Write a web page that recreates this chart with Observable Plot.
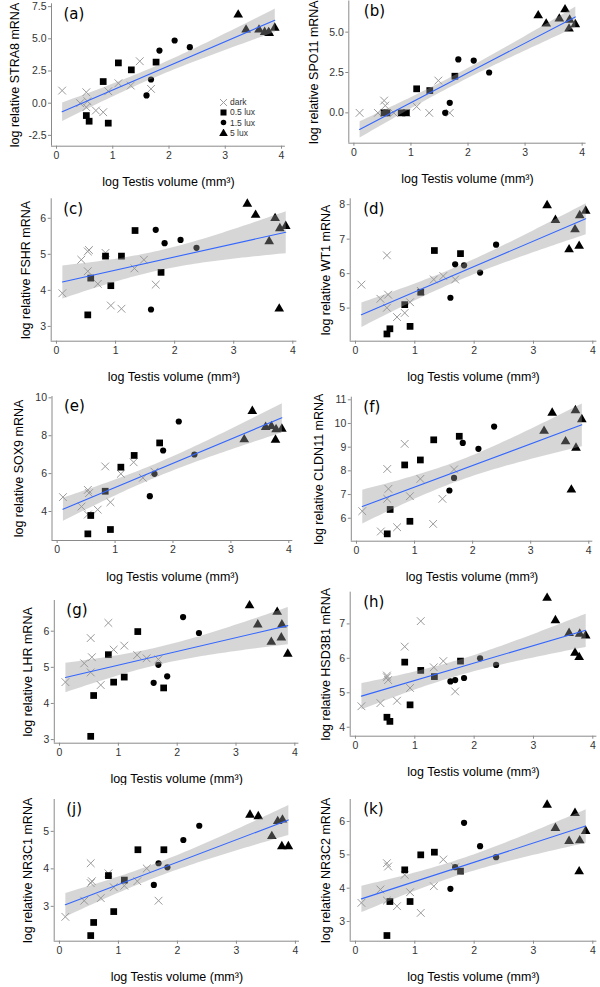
<!DOCTYPE html>
<html><head><meta charset="utf-8">
<script src="https://cdn.jsdelivr.net/npm/d3@7"></script>
<script src="https://cdn.jsdelivr.net/npm/@observablehq/plot@0.6"></script>
<style>
body{margin:0;background:#fff;}
#fig{position:relative;width:600px;height:987px;overflow:hidden;background:#fff;}
.panel{position:absolute;width:300px;}
.panel svg{overflow:visible;}
#legend{position:absolute;left:219px;top:97px;font-family:"Liberation Sans",Arial,sans-serif;font-size:8.5px;color:#333;}
#legend div{height:10.4px;line-height:10.4px;display:flex;align-items:center;}
#legend svg{margin-right:2px;}
</style></head><body><div id="fig"></div>
<script>
// ---- data ----
const lightLabels = ["dark", "0.5 lux", "1.5 lux", "5 lux"];
const lightGroup = [
  "dark","dark","dark","dark","dark","dark","dark","dark","dark","dark","dark","dark",
  "0.5 lux","0.5 lux","0.5 lux","0.5 lux","0.5 lux","0.5 lux","0.5 lux",
  "1.5 lux","1.5 lux","1.5 lux","1.5 lux","1.5 lux",
  "5 lux","5 lux","5 lux","5 lux","5 lux","5 lux","5 lux"];
const testisVolume = [
  0.10, 0.42, 0.53, 0.55, 0.53, 0.70, 0.83, 0.92, 1.10, 1.32, 1.48, 1.68,
  0.53, 0.58, 0.83, 0.92, 1.10, 1.33, 1.77,
  1.60, 1.68, 1.83, 2.10, 2.37,
  3.23, 3.37, 3.60, 3.70, 3.77, 3.78, 3.88];
const STRA8 = [0.98, 0.00, 0.85, 0.15, -0.31, -0.57, -0.70, 0.93, 1.55, 1.37, 3.26, 1.11,
  -0.96, -1.40, 1.68, -1.55, 3.13, 2.59, 3.19,
  0.60, 1.84, 4.09, 4.87, 4.35,
  6.87, 5.70, 5.70, 5.52, 5.50, 5.44, 5.85];
const SPO11 = [0.00, 0.00, 0.76, 0.45, 0.00, 0.00, 0.00, 0.00, 0.39, 0.00, 2.00, 0.00,
  0.00, 0.00, 0.00, 0.00, 1.49, 1.38, 2.27,
  0.00, 0.62, 3.31, 3.24, 2.50,
  6.03, 5.52, 5.83, 6.40, 5.21, 5.76, 5.48];
const FSHR = [3.92, 4.85, 5.08, 5.12, 4.53, 4.18, 5.04, 3.58, 3.49, 4.61, 4.85, 4.16,
  3.32, 4.34, 4.95, 4.13, 4.95, 5.66, 4.50,
  3.47, 5.68, 5.31, 5.40, 5.18,
  6.40, 6.09, 5.36, 6.00, 3.49, 5.72, 5.78];
const WT1 = [5.68, 5.27, 6.53, 5.39, 5.01, 4.74, 4.86, 5.17, 5.50, 5.83, 5.93, 5.83,
  4.25, 4.40, 5.10, 4.47, 5.46, 6.67, 6.58,
  5.30, 6.27, 6.24, 6.03, 6.84,
  7.98, 7.55, 6.70, 7.28, 6.80, 7.69, 7.82];
const SOX9 = [4.76, 4.26, 5.14, 4.97, 3.84, 4.10, 6.38, 4.49, 5.99, 6.60, 5.78, 6.10,
  2.82, 3.79, 5.07, 3.05, 6.34, 6.96, 7.62,
  4.81, 5.99, 7.22, 8.75, 7.01,
  7.80, 9.30, 8.45, 8.50, 7.78, 8.33, 8.36];
const CLDN11 = [6.30, 5.44, 8.08, 7.24, 6.82, 5.62, 9.14, 6.93, 7.66, 5.76, 6.82, 8.06,
  5.34, 6.37, 8.25, 5.87, 8.46, 9.31, 9.46,
  7.17, 7.70, 9.18, 8.93, 9.87,
  9.68, 10.45, 9.24, 7.20, 10.55, 8.97, 10.17];
const LHR = [4.59, 5.11, 5.81, 5.28, 4.86, 4.51, 6.23, 5.49, 5.60, 5.34, 5.25, 5.22,
  3.09, 4.22, 5.35, 4.59, 4.73, 5.99, 4.43,
  4.57, 5.07, 4.75, 6.39, 5.95,
  6.71, 6.18, 5.70, 6.53, 5.82, 6.18, 5.37];
const HSD3B1 = [4.61, 4.70, 5.50, 5.37, 5.45, 4.77, 6.34, 5.14, 7.08, 5.74, 5.92, 5.04,
  4.29, 4.17, 5.89, 4.65, 5.65, 5.47, 5.92,
  5.33, 5.37, 5.43, 6.00, 5.81,
  7.75, 7.10, 6.73, 6.16, 6.03, 6.71, 6.66];
const NR3C1 = [2.72, 3.15, 4.15, 3.67, 3.62, 3.22, 3.88, 3.51, 3.55, 3.67, 4.01, 3.15,
  2.22, 2.57, 3.82, 2.86, 3.70, 4.51, 4.51,
  3.57, 4.15, 4.04, 4.77, 5.15,
  5.44, 5.40, 4.87, 5.27, 4.60, 5.31, 4.60];
const NR3C2 = [3.56, 3.96, 4.75, 4.65, 3.63, 3.46, 4.40, 3.88, 3.26, 4.06, 4.86, 4.63,
  2.58, 3.60, 4.55, 3.60, 5.00, 5.08, 4.51,
  3.98, 4.63, 5.96, 5.26, 4.93,
  6.50, 5.80, 5.41, 6.25, 4.50, 5.43, 5.71];

const geneNames = ["STRA8","SPO11","FSHR","WT1","SOX9","CLDN11","LHR","HSD3B1","NR3C1","NR3C2"];
const geneValues = [STRA8, SPO11, FSHR, WT1, SOX9, CLDN11, LHR, HSD3B1, NR3C1, NR3C2];
const panelLabels = ["(a)","(b)","(c)","(d)","(e)","(f)","(g)","(h)","(j)","(k)"];
const xTitle = "log Testis volume (mm\u00b3)";
const xTicks = [0, 1, 2, 3, 4];
const xDomain = [-0.089, 4.069];
const yTicks = [
  [-2.5, 0, 2.5, 5, 7.5], [0, 2.5, 5], [3, 4, 5, 6], [5, 6, 7, 8], [4, 6, 8, 10],
  [6, 7, 8, 9, 10, 11], [3, 4, 5, 6], [4, 5, 6, 7], [3, 4, 5], [3, 4, 5, 6]];
const yDecimals = [1, 1, 0, 0, 0, 0, 0, 0, 0, 0];
const yDomains = [
  [-3.34, 7.72], [-1.88, 6.93], [2.59, 6.54], [4.04, 8.17], [2.47, 10.07],
  [5.03, 11.11], [2.9, 6.85], [3.74, 7.92], [2.07, 5.85], [2.41, 6.66]];

// ---- layout (pixel geometry of each panel) ----
const layout = [
 {col:0,rowTop:0,rowH:195,left:51.0,right:284.9,top:3.3,bottom:145.7,ytx:-37,lx:12},
 {col:1,rowTop:0,rowH:195,left:348.3,right:585.6,top:0.5,bottom:142.7,ytx:-35,lx:15},
 {col:0,rowTop:195,rowH:195,left:50.7,right:296.4,top:198.3,bottom:340.7,ytx:-25.7,lx:12},
 {col:1,rowTop:195,rowH:195,left:349.7,right:596.4,top:198.3,bottom:340.7,ytx:-24.7,lx:13},
 {col:0,rowTop:390,rowH:198,left:51.5,right:292.3,top:396,bottom:540,ytx:-33.2,lx:12},
 {col:1,rowTop:390,rowH:198,left:350.8,right:592.3,top:396.7,bottom:540.7,ytx:-32.5,lx:12},
 {col:0,rowTop:588,rowH:197,left:53.8,right:298.4,top:600,bottom:742.7,ytx:-26.1,lx:12},
 {col:1,rowTop:588,rowH:197,left:349.7,right:596.4,top:591.7,bottom:735.7,ytx:-24.7,lx:13},
 {col:0,rowTop:785,rowH:202,left:53.7,right:299,top:799,bottom:940.7,ytx:-26,lx:12},
 {col:1,rowTop:785,rowH:202,left:349.7,right:596.4,top:799,bottom:940.7,ytx:-24.7,lx:13}
];
const axisGrey = "#8a8a8a";
const tickText = "#333";
const symbolStyle = {
  "dark": {symbol: "times", stroke: "#9a9a9a", fill: "none", r: 3.6, strokeWidth: 1},
  "0.5 lux": {symbol: "square", fill: "black", stroke: "none", r: 3.8},
  "1.5 lux": {symbol: "circle", fill: "black", stroke: "none", r: 3.1},
  "5 lux": {symbol: "triangle", fill: "black", stroke: "none", r: 3.6}
};

const fig = document.getElementById("fig");

geneValues.forEach((vals, i) => {
  const L = layout[i];
  const data = testisVolume.map((x, j) => ({x, y: vals[j], g: lightGroup[j]}));
  const ml = L.left - L.col * 300, mr = L.col * 300 + 300 - L.right;
  const mt = L.top - L.rowTop, mb = L.rowTop + L.rowH - L.bottom;
  const dec = yDecimals[i];
  const dotMarks = lightLabels.map(g => Plot.dot(data.filter(d => d.g === g), {x: "x", y: "y", ...symbolStyle[g]}));
  const p = Plot.plot({
    width: 300, height: L.rowH,
    marginLeft: ml, marginRight: mr, marginTop: mt, marginBottom: mb,
    x: {domain: xDomain, label: null},
    y: {domain: yDomains[i], label: null},
    style: {fontFamily: "'Liberation Sans', Arial, sans-serif", fontSize: "10.5px", background: "white", overflow: "visible"},
    marks: [
      ...dotMarks,
      Plot.linearRegressionY(data, {x: "x", y: "y", stroke: "#3366FF", strokeWidth: 1.1, fill: "#999999", fillOpacity: 0.4}),
      Plot.ruleY([yDomains[i][0]], {stroke: axisGrey, strokeWidth: 1}),
      Plot.ruleX([xDomain[0]], {stroke: axisGrey, strokeWidth: 1}),
      Plot.axisX({ticks: xTicks, tickSize: 3, tickPadding: 2, stroke: axisGrey, fill: tickText, label: null, tickFormat: d => String(d)}),
      Plot.axisY({ticks: yTicks[i], tickSize: 3, tickPadding: 2, stroke: axisGrey, fill: tickText, label: null, tickFormat: d => d.toFixed(dec)}),
      Plot.text([panelLabels[i]], {frameAnchor: "top-left", dx: L.lx, dy: 10, textAnchor: "start", lineAnchor: "middle", fontSize: 15, fontFamily: "'DejaVu Sans', sans-serif", fill: "black"}),
      Plot.text([xTitle], {frameAnchor: "bottom", dy: 36, lineAnchor: "middle", fontSize: 12.5, fill: "black"}),
      Plot.text(["log relative " + geneNames[i] + " mRNA"], {frameAnchor: "left", dx: L.ytx, rotate: -90, textAnchor: "middle", lineAnchor: "middle", fontSize: 12.5, fill: "black"})
    ]
  });
  const div = document.createElement("div");
  div.className = "panel";
  div.style.left = (L.col * 300) + "px";
  div.style.top = L.rowTop + "px";
  div.appendChild(p);
  fig.appendChild(div);
});

// legend for panel (a)
const legend = document.createElement("div");
legend.id = "legend";
const symMap = {times: d3.symbolTimes, square: d3.symbolSquare, circle: d3.symbolCircle, triangle: d3.symbolTriangle};
lightLabels.forEach(g => {
  const s = symbolStyle[g];
  const row = document.createElement("div");
  const size = Math.PI * s.r * s.r * 0.8;
  const path = d3.symbol(symMap[s.symbol], size)();
  row.innerHTML = `<svg width="9" height="9" viewBox="-4.5 -4.5 9 9"><path d="${path}" fill="${s.fill}" stroke="${s.stroke}" stroke-width="${s.strokeWidth || 0}"/></svg><span>${g}</span>`;
  legend.appendChild(row);
});
fig.appendChild(legend);
</script></body></html>
